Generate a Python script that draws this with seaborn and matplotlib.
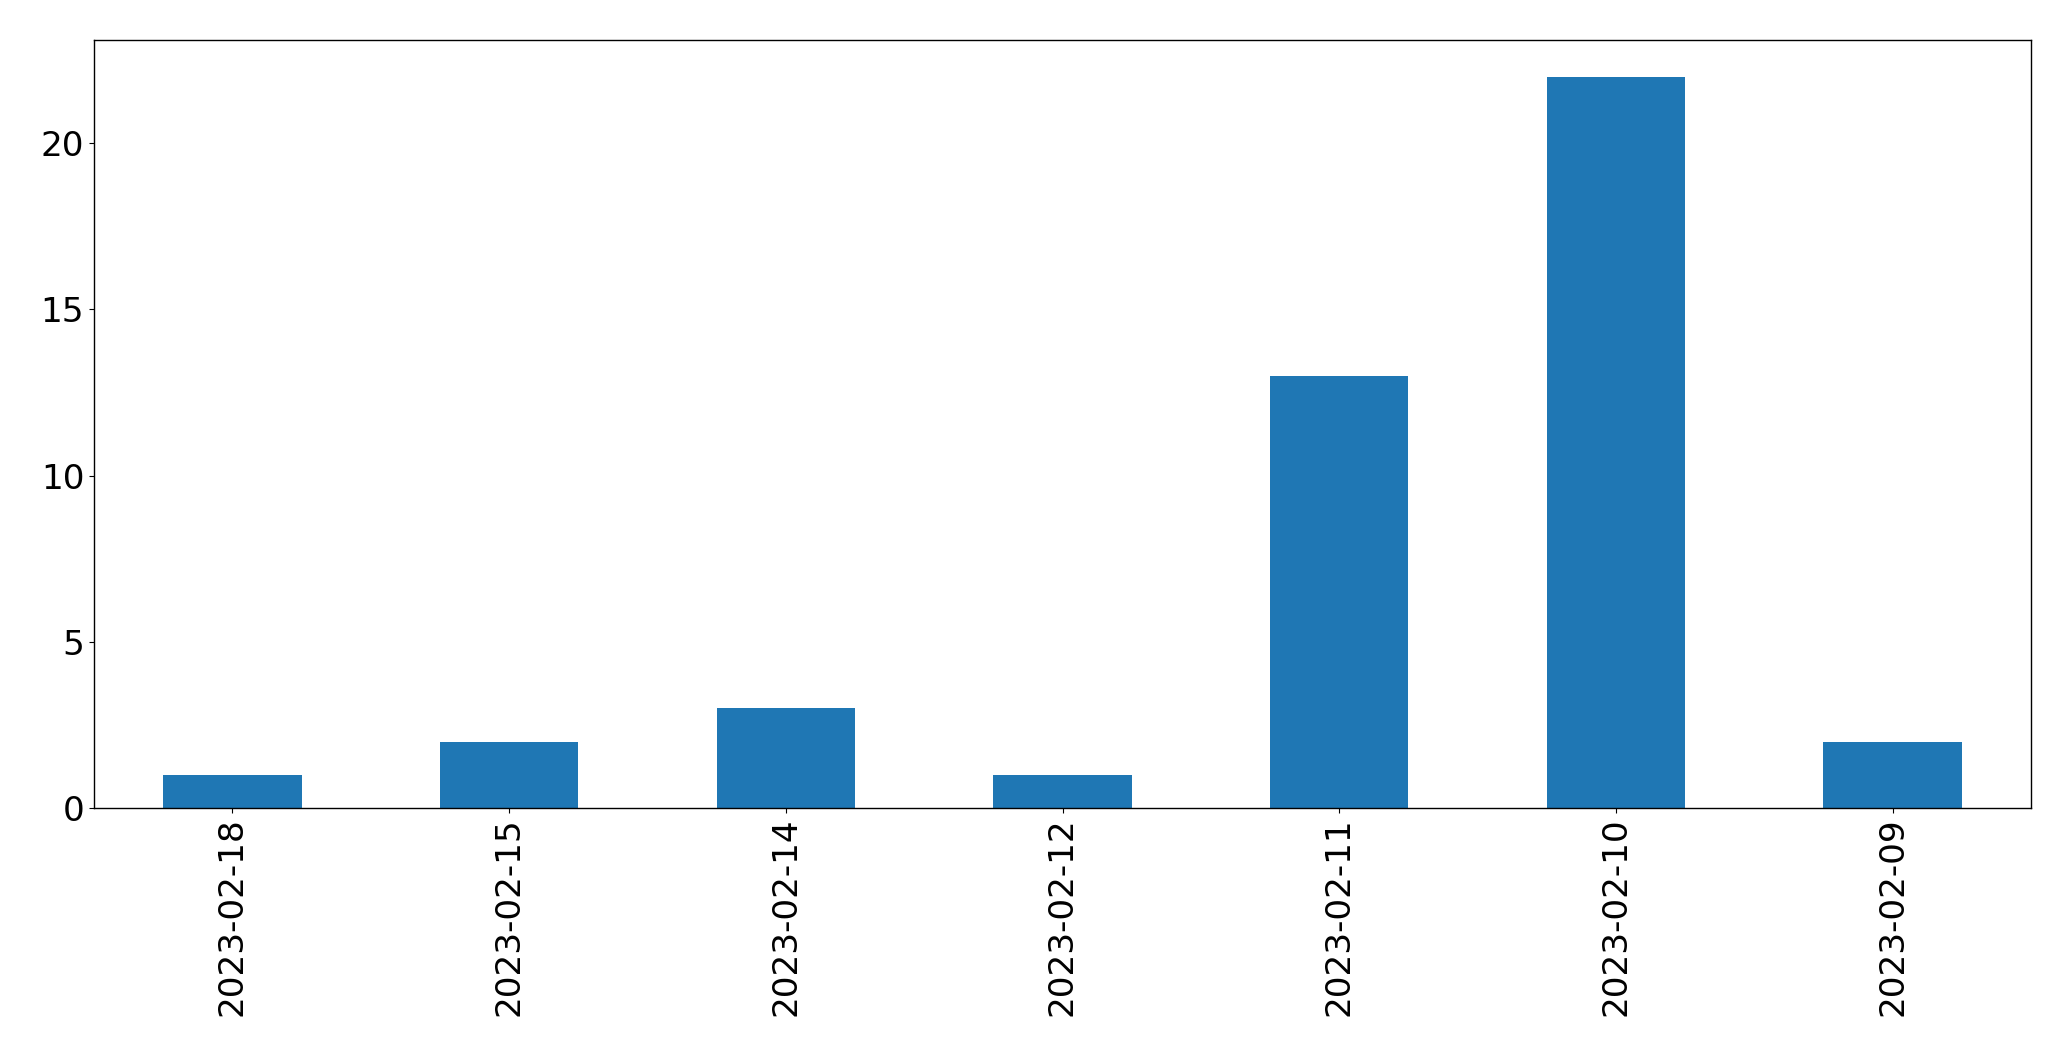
import matplotlib
matplotlib.use("Agg")
import matplotlib.pyplot as plt
import seaborn as sns
import pandas as pd

dates = ["2023-02-18", "2023-02-15", "2023-02-14", "2023-02-12",
         "2023-02-11", "2023-02-10", "2023-02-09"]
counts = [1, 2, 3, 1, 13, 22, 2]

df = pd.DataFrame({"date": dates, "count": counts})

fig = plt.figure(figsize=(20.71, 10.61), dpi=100)
ax = fig.add_axes([94 / 2071, 1 - 808 / 1061, (2031 - 94) / 2071, (808 - 40) / 1061])

sns.barplot(data=df, x="date", y="count", order=dates, color="#1f77b4",
            saturation=1, width=0.5, ax=ax)

ax.set_xlim(-0.5, 6.5)
ax.set_ylim(0, 23.1)
ax.set_yticks([0, 5, 10, 15, 20])
ax.set_xlabel("")
ax.set_ylabel("")
ax.tick_params(axis="both", labelsize=24.7, color="black", labelcolor="black")
for s in ax.spines.values():
    s.set_color("black")
    s.set_linewidth(1.0)
plt.setp(ax.get_xticklabels(), rotation=90)

fig.savefig("out.png", dpi=100)
